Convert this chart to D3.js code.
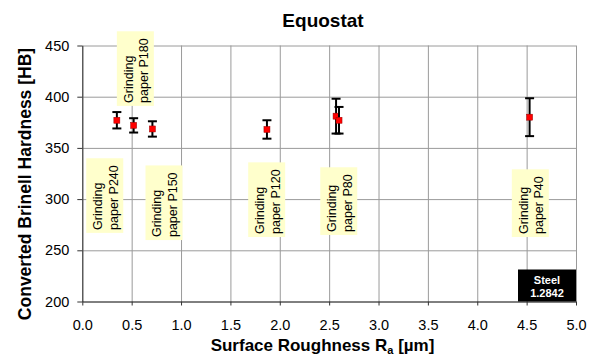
<!DOCTYPE html>
<html>
<head>
<meta charset="utf-8">
<script src="https://d3js.org/d3.v7.min.js"></script>
<style>
    body { margin: 0; background: #fff; }
    svg { font-family: "Liberation Sans", Arial, sans-serif; }
    .grid line { stroke: #9a9a9a; stroke-width: 1px; }
    .grid path { display: none; }
    .axis path, .axis line { stroke: #333; }
    .axis text { font-size: 14.5px; fill: #000; }
</style>
</head>
<body>
<svg width="594" height="358"></svg>
<script>
// measurements (surface roughness Ra vs converted hardness)
var roughness   = [0.35, 0.52, 0.71, 1.87, 2.57, 2.60, 4.53];
var hardness    = [377, 372, 368.5, 368, 381, 377, 380];
var hardnessErr = [8, 7, 7.5, 9, 17, 13, 18.5];

// grinding paper notes, anchored at the lower left corner of each box (data units)
var paperNames = ["P240", "P180", "P150", "P120", "P80", "P40"];
var paperX     = [0.04, 0.35, 0.64, 1.68, 2.41, 4.35];
var paperY     = [267, 391, 260, 263, 265, 263];

var xTicks = [0, 0.5, 1, 1.5, 2, 2.5, 3, 3.5, 4, 4.5, 5];
var yTicks = [200, 250, 300, 350, 400, 450];

var svg = d3.select("svg");
var margin = {top: 45.5, right: 18, bottom: 56.5, left: 82.3},
    width = 594 - margin.left - margin.right,
    height = 358 - margin.top - margin.bottom;
var g = svg.append("g").attr("transform", `translate(${margin.left}, ${margin.top})`);

var x = d3.scaleLinear().domain([0, 5]).range([0, width]);
var y = d3.scaleLinear().domain([200, 450]).range([height, 0]);

// gridlines
g.append("g").attr("class", "grid")
    .call(d3.axisLeft(y).tickValues(yTicks).tickSize(-width).tickFormat(""));
g.append("g").attr("class", "grid")
    .attr("transform", `translate(0, ${height})`)
    .call(d3.axisBottom(x).tickValues(xTicks).tickSize(height).tickFormat(""))
    .selectAll("line").attr("y1", 0).attr("y2", -height);

// axes
g.append("g").attr("class", "axis")
    .call(d3.axisLeft(y).tickValues(yTicks).tickSize(5).tickSizeOuter(0).tickPadding(8).tickFormat(d3.format("d")));
g.append("g").attr("class", "axis")
    .attr("transform", `translate(0, ${height})`)
    .call(d3.axisBottom(x).tickValues(xTicks).tickSize(4).tickSizeOuter(0).tickPadding(14).tickFormat(d3.format(".1f")));

// grinding paper notes
paperNames.forEach(function(name, i) {
    var note = g.append("g")
        .attr("transform", `translate(${x(paperX[i])}, ${y(paperY[i])})`);
    var box = note.append("rect").attr("fill", "#ffffcc");
    var t1 = note.append("text")
        .attr("transform", "translate(16,-3) rotate(-90)")
        .style("font-size", "12.5px")
        .text("Grinding");
    var t2 = note.append("text")
        .attr("transform", "translate(31.5,-3) rotate(-90)")
        .style("font-size", "12.5px")
        .text("paper " + name);
    var len = Math.max(t1.node().getComputedTextLength(), t2.node().getComputedTextLength());
    box.attr("x", 0).attr("y", -(len + 10)).attr("width", 37).attr("height", len + 10);
});

// steel tag
var tag = g.append("g").attr("transform", `translate(${width}, ${height})`);
tag.append("rect").attr("x", -58).attr("y", -32).attr("width", 58).attr("height", 32).attr("fill", "#000");
tag.append("text").attr("x", -29).attr("y", -17.5).attr("text-anchor", "middle")
    .attr("fill", "#fff").style("font-size", "11px").style("font-weight", "bold").text("Steel");
tag.append("text").attr("x", -29).attr("y", -5).attr("text-anchor", "middle")
    .attr("fill", "#fff").style("font-size", "11px").style("font-weight", "bold").text("1.2842");

// error bars
var bars = g.append("g").selectAll("g").data(roughness).join("g");
bars.append("line")
    .attr("x1", (d, i) => x(d)).attr("x2", (d, i) => x(d))
    .attr("y1", (d, i) => y(hardness[i] - hardnessErr[i]))
    .attr("y2", (d, i) => y(hardness[i] + hardnessErr[i]))
    .attr("stroke", "#000").attr("stroke-width", 2);
bars.append("line")
    .attr("x1", d => x(d) - 4.5).attr("x2", d => x(d) + 4.5)
    .attr("y1", (d, i) => y(hardness[i] + hardnessErr[i]))
    .attr("y2", (d, i) => y(hardness[i] + hardnessErr[i]))
    .attr("stroke", "#000").attr("stroke-width", 2);
bars.append("line")
    .attr("x1", d => x(d) - 4.5).attr("x2", d => x(d) + 4.5)
    .attr("y1", (d, i) => y(hardness[i] - hardnessErr[i]))
    .attr("y2", (d, i) => y(hardness[i] - hardnessErr[i]))
    .attr("stroke", "#000").attr("stroke-width", 2);
bars.append("rect")
    .attr("x", d => x(d) - 3).attr("y", (d, i) => y(hardness[i]) - 3)
    .attr("width", 6).attr("height", 6)
    .attr("fill", "#ff0000").attr("stroke", "#900").attr("stroke-width", 0.5);

// titles
svg.append("text").attr("x", 323).attr("y", 27).attr("text-anchor", "middle")
    .style("font-size", "19px").style("font-weight", "bold").text("Equostat");

var xt = svg.append("text").attr("x", 322.5).attr("y", 351).attr("text-anchor", "middle")
    .style("font-size", "17px").style("font-weight", "bold");
xt.append("tspan").text("Surface Roughness R");
xt.append("tspan").attr("dy", 3).style("font-size", "11px").text("a");
xt.append("tspan").attr("dy", -3).text(" [µm]");

svg.append("text")
    .attr("transform", `translate(31, 184) rotate(-90)`)
    .attr("text-anchor", "middle")
    .style("font-size", "17.5px").style("font-weight", "bold")
    .text("Converted Brinell Hardness [HB]");
</script>
</body>
</html>
